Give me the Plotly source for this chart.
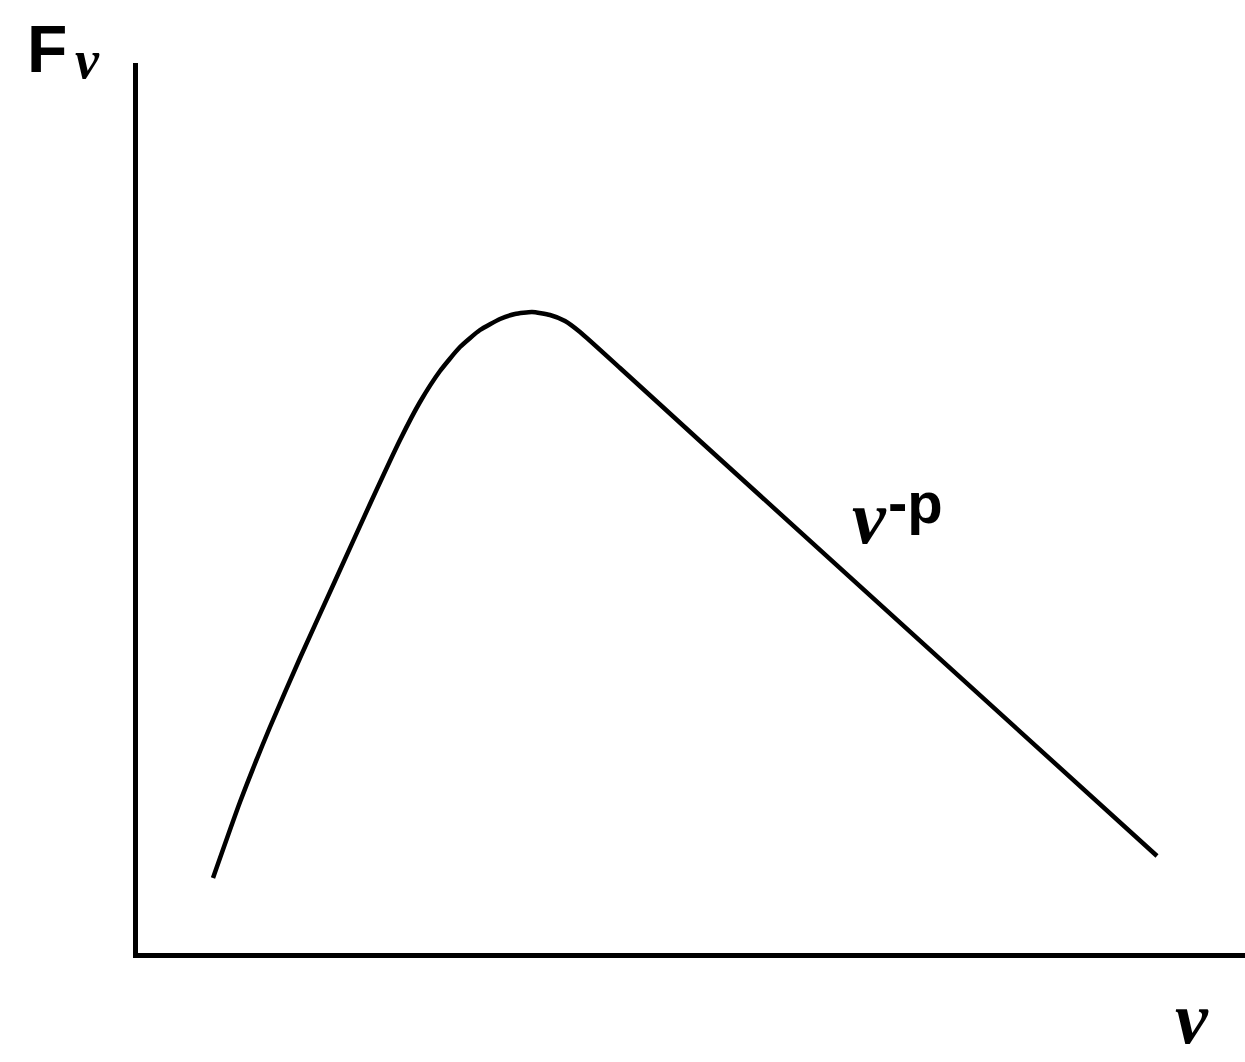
import plotly.graph_objects as go

# Spectrum shape: steep low-frequency rise, rounded peak, then a straight power-law decline
freq = [78, 105, 135, 165, 200, 235, 265, 285, 305, 325, 345, 365, 380, 397,
        415, 430, 445, 485, 565, 1022]
flux = [78, 154, 229, 298, 375, 452, 516, 554, 585, 609, 626, 637, 642, 644,
        641, 635, 624, 588, 515, 100]

y_title = "F"
nu = "ν"
slope_label = "-p"

fig = go.Figure()
fig.add_trace(go.Scatter(
    x=freq, y=flux, mode="lines",
    line=dict(color="black", width=4.5, shape="spline", smoothing=0.5),
    hoverinfo="skip",
))

serif = "Liberation Serif"
sans = "Liberation Sans"

def label(text, x, y, family, size, italic=False, yanchor="middle"):
    fig.add_annotation(
        x=x, y=y, xref="paper", yref="paper", text=text, showarrow=False,
        xanchor="left", yanchor=yanchor,
        font=dict(family=family, size=size, color="black", weight="bold",
                  style="italic" if italic else "normal"),
    )

# Y-axis title: F with subscript nu
label(y_title, -0.1019, 1.0156, sans, 66)
label(nu, -0.0590, 1.0035, serif, 54, italic=True)
# X-axis title, kept inside the bottom edge
label(nu, 0.9350, -0.1213, serif, 74, italic=True, yanchor="bottom")
# Power-law index next to the declining branch
label(nu, 0.6432, 0.4895, serif, 76, italic=True)
label(slope_label, 0.6757, 0.5067, sans, 58)

fig.update_xaxes(range=[3, 1110], showline=True, linecolor="black", linewidth=5,
                 showgrid=False, zeroline=False, showticklabels=False, ticks="")
fig.update_yaxes(range=[3, 893], showline=True, linecolor="black", linewidth=5,
                 showgrid=False, zeroline=False, showticklabels=False, ticks="")
fig.update_layout(
    width=1245, height=1062,
    margin=dict(l=138, r=0, t=63, b=109),
    plot_bgcolor="white", paper_bgcolor="white",
    showlegend=False,
)
fig.write_html("out.html")
